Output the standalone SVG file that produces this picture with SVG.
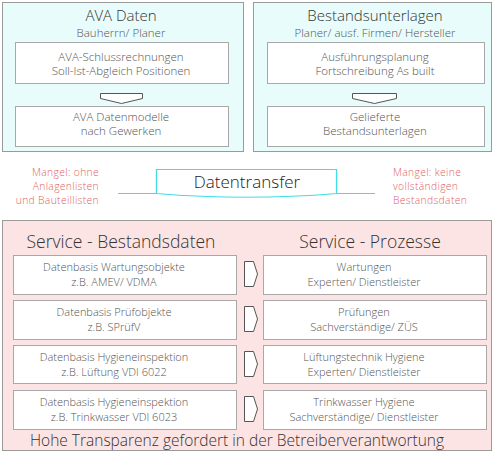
<svg xmlns="http://www.w3.org/2000/svg" width="495" height="459" viewBox="0 0 495 459">
<style>
text{font-family:"Open Sans","Liberation Sans",sans-serif;font-weight:300;text-anchor:middle;}
.outerC{fill:#e9fcfc;stroke:#9a9a9a;stroke-width:1;}
.outerP{fill:#fde4e4;stroke:#9a9a9a;stroke-width:1;}
.inner{fill:#ffffff;stroke:#a8a8a8;stroke-width:1;}
.t1{font-size:15px;fill:#333;}
.t2{font-size:11.5px;fill:#555;}
.t3{font-size:11px;fill:#555;}
.ts{font-size:17.5px;fill:#333;}
.red{font-size:10.3px;fill:#e06262;letter-spacing:0.35px;}
.arr{fill:#fff;stroke:#555;stroke-width:1;}
</style>
<g id="ava">
<rect class="outerC" x="2.5" y="2.5" width="241" height="149"/>
<text class="t1" x="121" y="21">AVA Daten</text>
<text class="t2" x="121" y="37">Bauherrn/ Planer</text>
</g>
<g id="ava-schluss">
<rect class="inner" x="15.5" y="42.5" width="213" height="41"/>
<text class="t2" x="121" y="61">AVA-Schlussrechnungen</text>
<text class="t2" x="121" y="75">Soll-Ist-Abgleich Positionen</text>
</g>
<g id="ava-modelle">
<rect class="inner" x="15.5" y="106.5" width="213" height="40"/>
<text class="t2" x="121" y="121">AVA Datenmodelle</text>
<text class="t2" x="121" y="135">nach Gewerken</text>
</g>
<g id="bestand">
<rect class="outerC" x="253.5" y="2.5" width="238" height="149"/>
<text class="t1" x="375" y="21">Bestandsunterlagen</text>
<text class="t2" x="375" y="37">Planer/ ausf. Firmen/ Hersteller</text>
</g>
<g id="ausfuehrung">
<rect class="inner" x="267.5" y="42.5" width="217" height="41"/>
<text class="t2" x="375" y="61">Ausführungsplanung</text>
<text class="t2" x="375" y="75">Fortschreibung As built</text>
</g>
<g id="geliefert">
<rect class="inner" x="267.5" y="106.5" width="217" height="40"/>
<text class="t2" x="375" y="121">Gelieferte</text>
<text class="t2" x="375" y="135">Bestandsunterlagen</text>
</g>
<g id="datentransfer">
<path d="M118,193.5 L156.5,193.5 L156.5,169.5 L336.5,169.5 L336.5,193.5 L375,193.5" fill="none" stroke="#3fdde8" stroke-width="1.2"/>
<path d="M156.5,169.5 L336.5,169.5 L336.5,193.5 Q246,201 156.5,193.5 Z" fill="#fff" stroke="#3fdde8" stroke-width="1.2"/>
<text x="247" y="188" style="font-size:17px;fill:#222;">Datentransfer</text>
</g>
<g id="mangel-links">
<text class="red" x="99" y="176" style="text-anchor:end">Mangel: ohne</text>
<text class="red" x="99" y="190" style="text-anchor:end">Anlagenlisten</text>
<text class="red" x="99" y="204" style="text-anchor:end">und Bauteillisten</text>
</g>
<g id="mangel-rechts">
<text class="red" x="393" y="176" style="text-anchor:start">Mangel: keine</text>
<text class="red" x="393" y="190" style="text-anchor:start">vollständigen</text>
<text class="red" x="393" y="204" style="text-anchor:start">Bestandsdaten</text>
</g>
<g id="service">
<rect class="outerP" x="2.5" y="220.5" width="489" height="230"/>
<text class="ts" x="121" y="248">Service - Bestandsdaten</text>
<text class="ts" x="370" y="248">Service - Prozesse</text>
<text x="237" y="446" style="font-size:15.5px;fill:#333;">Hohe Transparenz gefordert in der Betreiberverantwortung</text>
</g>
<g id="db-wartung">
<rect class="inner" x="13.5" y="255.5" width="223" height="39"/>
<text class="t3" x="114" y="271">Datenbasis Wartungsobjekte</text>
<text class="t3" x="114" y="286">z.B. AMEV/ VDMA</text>
</g>
<g id="db-pruef">
<rect class="inner" x="13.5" y="300.5" width="223" height="39"/>
<text class="t3" x="114" y="316">Datenbasis Prüfobjekte</text>
<text class="t3" x="114" y="331">z.B. SPrüfV</text>
</g>
<g id="db-lueftung">
<rect class="inner" x="13.5" y="345.5" width="223" height="38"/>
<text class="t3" x="114" y="361">Datenbasis Hygieneinspektion</text>
<text class="t3" x="114" y="376">z.B. Lüftung VDI 6022</text>
</g>
<g id="db-trink">
<rect class="inner" x="13.5" y="390.5" width="223" height="39"/>
<text class="t3" x="114" y="406">Datenbasis Hygieneinspektion</text>
<text class="t3" x="114" y="421">z.B. Trinkwasser VDI 6023</text>
</g>
<g id="p-wartung">
<rect class="inner" x="263.5" y="255.5" width="223" height="39"/>
<text class="t3" x="364" y="271">Wartungen</text>
<text class="t3" x="364" y="286">Experten/ Dienstleister</text>
</g>
<g id="p-pruef">
<rect class="inner" x="263.5" y="300.5" width="223" height="39"/>
<text class="t3" x="364" y="316">Prüfungen</text>
<text class="t3" x="364" y="331">Sachverständige/ ZÜS</text>
</g>
<g id="p-lueftung">
<rect class="inner" x="263.5" y="345.5" width="223" height="38"/>
<text class="t3" x="364" y="361">Lüftungstechnik Hygiene</text>
<text class="t3" x="364" y="376">Experten/ Dienstleister</text>
</g>
<g id="p-trink">
<rect class="inner" x="263.5" y="390.5" width="223" height="39"/>
<text class="t3" x="364" y="406">Trinkwasser Hygiene</text>
<text class="t3" x="364" y="421">Sachverständige/ Dienstleister</text>
</g>
<g id="connectors">
<polygon class="arr" points="100.5,93.5 142.5,93.5 142.5,98.5 121.5,103.5 100.5,98.5"/>
<polygon class="arr" points="352.5,93.5 396.5,93.5 396.5,98.5 374.5,103.5 352.5,98.5"/>
<polygon class="arr" points="244.5,261.5 253.5,261.5 257.5,274 253.5,286.5 244.5,286.5"/>
<polygon class="arr" points="244.5,306.5 253.5,306.5 257.5,319 253.5,331.5 244.5,331.5"/>
<polygon class="arr" points="244.5,351.5 253.5,351.5 257.5,364 253.5,376.5 244.5,376.5"/>
<polygon class="arr" points="244.5,396.5 253.5,396.5 257.5,409 253.5,421.5 244.5,421.5"/>
</g>
</svg>
